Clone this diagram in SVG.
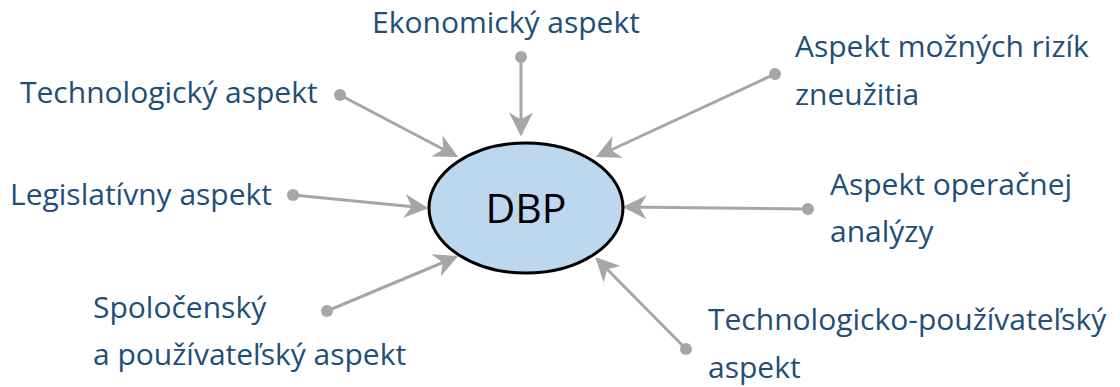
<svg xmlns="http://www.w3.org/2000/svg" width="1120" height="387" viewBox="0 0 1120 387">
<style>
.lbl{font-family:"Open Sans","Liberation Sans",sans-serif;font-size:30px;fill:#1F4E79}
.con{stroke:#A6A6A6;stroke-width:3;fill:none;marker-end:url(#ah)}
.dot{fill:#A6A6A6}
</style>
<defs>
<marker id="ah" viewBox="0 0 10 10" refX="9" refY="5" markerWidth="8" markerHeight="8" markerUnits="strokeWidth" orient="auto">
<path d="M0,0 L10,5 L0,10 L3,5 Z" fill="#A6A6A6"/>
</marker>
</defs>
<g id="connectors">
<line class="con" x1="521" y1="57" x2="521" y2="134"/><circle class="dot" cx="521" cy="57" r="6"/>
<line class="con" x1="775" y1="74" x2="598" y2="156"/><circle class="dot" cx="775" cy="74" r="6"/>
<line class="con" x1="340" y1="95" x2="456" y2="156"/><circle class="dot" cx="340" cy="95" r="6"/>
<line class="con" x1="293" y1="195" x2="426" y2="208"/><circle class="dot" cx="293" cy="195" r="6"/>
<line class="con" x1="808" y1="209" x2="625" y2="207"/><circle class="dot" cx="808" cy="209" r="6"/>
<line class="con" x1="327" y1="311" x2="456" y2="257"/><circle class="dot" cx="327" cy="311" r="6"/>
<line class="con" x1="686" y1="349" x2="597" y2="259"/><circle class="dot" cx="686" cy="349" r="6"/>
</g>
<g id="dbp">
<ellipse cx="526" cy="208" rx="97" ry="65" fill="#BDD7EE" stroke="#000" stroke-width="3"/>
<text x="526" y="223" text-anchor="middle" style="font-family:'Open Sans','Liberation Sans',sans-serif;font-size:41px;fill:#000">DBP</text>
</g>
<g id="ekonomicky"><text class="lbl" x="372" y="33">Ekonomický aspekt</text></g>
<g id="rizika"><text class="lbl" x="795" y="57">Aspekt možných rizík</text><text class="lbl" x="795" y="105">zneužitia</text></g>
<g id="technologicky"><text class="lbl" x="20" y="103">Technologický aspekt</text></g>
<g id="legislativny"><text class="lbl" x="10" y="205">Legislatívny aspekt</text></g>
<g id="operacna"><text class="lbl" x="830" y="195">Aspekt operačnej</text><text class="lbl" x="830" y="242">analýzy</text></g>
<g id="spolocensky"><text class="lbl" x="93" y="318">Spoločenský</text><text class="lbl" x="93" y="365">a používateľský aspekt</text></g>
<g id="techpouz"><text class="lbl" x="708" y="330">Technologicko-používateľský</text><text class="lbl" x="708" y="378">aspekt</text></g>
</svg>
